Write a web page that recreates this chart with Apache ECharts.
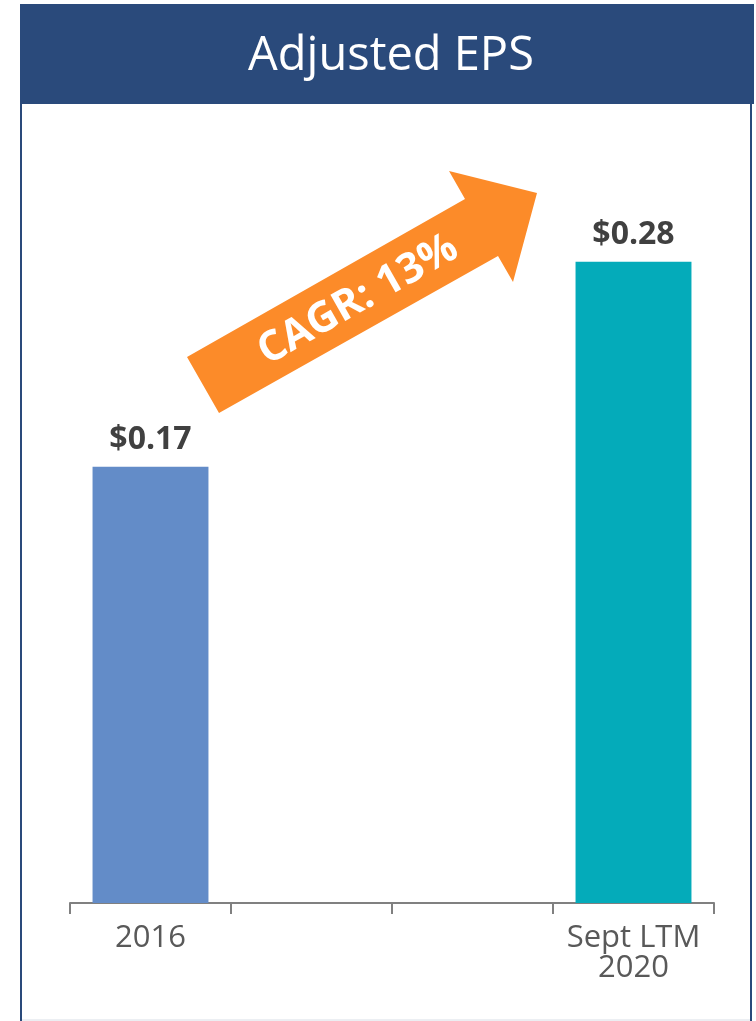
<!DOCTYPE html>
<html>
<head>
<meta charset="utf-8">
<title>Adjusted EPS</title>
<script src="https://cdn.jsdelivr.net/npm/echarts@6/dist/echarts.min.js"></script>
<style>
  html, body { margin: 0; padding: 0; background: #fff; }
  #main { width: 756px; height: 1021px; }
</style>
</head>
<body>
<div id="main"></div>
<script>
  // categories on the x axis (two empty slots between the bars)
  var categories = ['2016', '', '', 'Sept LTM\n2020'];
  // adjusted EPS per category, null = no bar
  var epsValues = [0.17, null, null, 0.28];
  var barColors = ['#638CC8', '#04ABBA'];
  var cagrText = 'CAGR: 13%';

  // value axis does not start at zero in the original
  var yMin = -0.064;
  var yMax = 0.34;

  var barData = [];
  epsValues.forEach(function (v, i) {
    if (v !== null) barData.push([i, v]);
  });

  var chart = echarts.init(document.getElementById('main'));

  chart.setOption({
    animation: false,
    title: {
      text: 'Adjusted EPS',
      left: 386,
      top: 28,
      textAlign: 'center',
      textStyle: { color: '#fff', fontFamily: 'Open Sans', fontWeight: 'normal', fontSize: 47 }
    },
    grid: { left: 70, right: 42, top: 150, bottom: 118 },
    xAxis: {
      type: 'category',
      data: categories,
      boundaryGap: true,
      axisLine: { show: true, onZero: false, lineStyle: { color: '#808080', width: 2 } },
      axisTick: { show: true, interval: 0, alignWithLabel: false, length: 11, lineStyle: { color: '#808080', width: 2 } },
      axisLabel: {
        interval: 0,
        color: '#595959', fontFamily: 'Open Sans', fontSize: 31, lineHeight: 30, margin: 20
      }
    },
    yAxis: {
      type: 'value',
      min: yMin,
      max: yMax,
      show: false
    },
    graphic: [
      // title bar
      { type: 'rect', z: -1, shape: { x: 20, y: 4, width: 734, height: 100 }, style: { fill: '#2A4A7B' } },
      // panel borders
      { type: 'line', shape: { x1: 21, y1: 104, x2: 21, y2: 1021 }, style: { stroke: '#2A4A7B', lineWidth: 2 } },
      { type: 'line', shape: { x1: 751, y1: 104, x2: 751, y2: 1021 }, style: { stroke: '#2A4A7B', lineWidth: 2 } },
      { type: 'line', shape: { x1: 22, y1: 1020, x2: 750, y2: 1020 }, style: { stroke: '#D9DEE6', lineWidth: 1 } },
      // CAGR arrow
      {
        type: 'polygon',
        shape: { points: [[187, 357], [465, 199], [449, 171], [537, 193], [513, 282], [498, 256], [219, 413]] },
        style: { fill: '#FC8B29' }
      },
      {
        type: 'text',
        x: 358, y: 300,
        rotation: 0.517,
        style: {
          text: cagrText, fill: '#fff', font: 'bold 42px "Open Sans"',
          align: 'center', verticalAlign: 'middle'
        }
      }
    ],
    series: [{
      type: 'custom',
      data: barData,
      renderItem: function (params, api) {
        var idx = api.value(0);
        var val = api.value(1);
        var top = api.coord([idx, val]);
        var base = api.coord([idx, yMin]);
        var w = api.size([1, 0])[0] * 0.72;
        return {
          type: 'rect',
          shape: { x: top[0] - w / 2, y: top[1], width: w, height: base[1] - top[1] },
          style: { fill: barColors[params.dataIndex] },
          textContent: {
            style: {
              text: '$' + val.toFixed(2),
              fill: '#404040',
              font: 'bold 32px "Open Sans"'
            }
          },
          textConfig: { position: 'top', distance: 11 }
        };
      }
    }]
  });
</script>
</body>
</html>
